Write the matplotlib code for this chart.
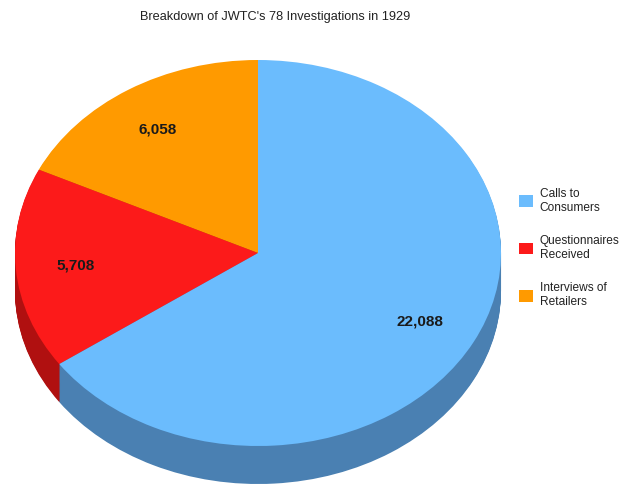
import matplotlib
matplotlib.use("Agg")
import matplotlib.pyplot as plt
import numpy as np

plt.rcParams['font.family'] = ['Liberation Sans', 'DejaVu Sans']

title = "Breakdown of JWTC's 78 Investigations in 1929"
labels = ['Interviews of\nRetailers', 'Questionnaires\nReceived', 'Calls to\nConsumers']
values = [6058, 5708, 22088]
top_colors = ['#ff9a00', '#fc1a1a', '#6bbcfd']
side_colors = ['#b86e00', '#b01010', '#4a80b2']

# pixel geometry of the top ellipse
cx, cy, rx, ry = 258, 253, 243, 193
depth = 38


def to_data(px, py):
    return (px - cx) / rx, (cy - py) / ry


fig = plt.figure(figsize=(6.21, 4.87), dpi=100)
ax = fig.add_axes([0, 0, 1, 1])

# side of the pie: stacked darker pies
n_layers = 40
for k in range(n_layers, 0, -1):
    off = -depth / ry * k / n_layers
    ax.pie(values, colors=side_colors, startangle=90, counterclock=True,
           center=(0, off), radius=1, wedgeprops=dict(linewidth=0))

wedges, _ = ax.pie(values, colors=top_colors, startangle=90, counterclock=True,
                   center=(0, 0), radius=1, wedgeprops=dict(linewidth=0))

ax.set_aspect('auto')
x0, y0 = to_data(0, 487)
x1, y1 = to_data(621, 0)
ax.set_xlim(x0, x1)
ax.set_ylim(y0, y1)
ax.axis('off')

value_pos = [(158, 130), (76, 266), (420, 322)]
for v, (px, py) in zip(values, value_pos):
    x, y = to_data(px, py)
    ax.text(x, y, f"{v:,}", ha='center', va='center', fontsize=11,
            fontweight='bold', color='#1a1a1a')

tx, ty = to_data(275, 17)
ax.text(tx, ty, title, ha='center', va='center', fontsize=9.2, color='#222222')

order = [2, 1, 0]
leg = fig.legend([wedges[i] for i in order], [labels[i] for i in order],
                 loc='upper left', bbox_to_anchor=(514 / 621, 1 - 183 / 487),
                 frameon=False, fontsize=8.6, handlelength=1.15, handleheight=1.15,
                 labelspacing=1.8, handletextpad=0.6, borderaxespad=0)
for t in leg.get_texts():
    t.set_color('#222222')

fig.savefig('out.png', dpi=100)
